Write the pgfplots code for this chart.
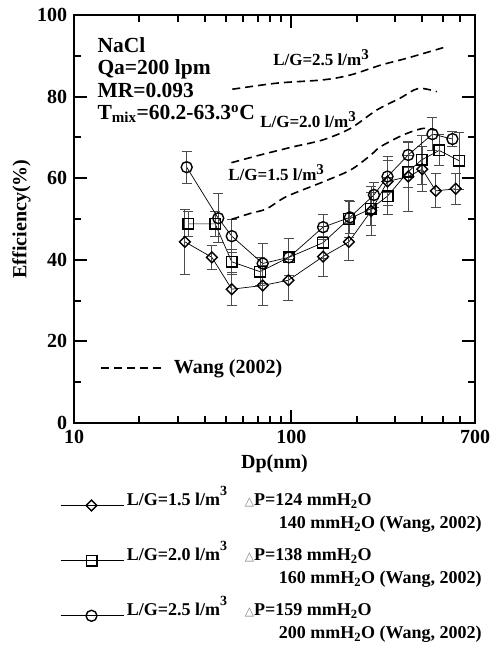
\documentclass[border=0pt]{standalone}
\usepackage{pgfplots}
\pgfplotsset{compat=1.18}
\usepackage{pgfplotstable}
\usepackage{fontspec}
\setmainfont{Liberation Serif}
\newfontfamily\dejavu{DejaVu Sans}
\newcommand\tri{{\dejavu\mdseries\color{gray}\fontsize{12bp}{12bp}\selectfont △}}
\newcommand\cubeL{\raisebox{.55em}{\fontsize{14bp}{14bp}\selectfont 3}}
\newcommand\cubeS{\raisebox{.38em}{\fontsize{15bp}{15bp}\selectfont 3}}

\pgfplotstableread{
x y e
32.4 44.4 8.0
43.1 40.6 3.0
53.2 32.8 4.0
73.8 33.7 5.0
97.0 35.0 5.0
140 40.8 5.0
184 44.4 4.5
233 52.0 6.0
277 59.2 6.0
345 60.4 8.5
400 62.2 5.5
462 56.9 4.2
571 57.4 3.8
}\lgA
\pgfplotstableread{
x y e
33.6 48.8 3.0
44.6 48.8 3.0
53.2 39.5 3.0
71.8 37.1 3.5
97.5 40.6 4.5
140 44.2 4.0
184 50.0 4.5
232 52.5 4.0
277 55.6 4.5
345 61.6 4.0
398 64.5 6.0
479 66.8 3.8
591 64.3 7.0
}\lgB
\pgfplotstableread{
x y e
33.0 62.7 3.9
46.1 50.2 6.0
53.2 45.8 4.0
73.8 39.1 4.8
97.5 40.6 4.5
140 48.0 3.0
186 50.4 4.0
240 55.9 3.0
277 60.4 4.0
345 65.7 3.0
446 70.8 4.1
551 69.6 1.8
}\lgC
\pgfplotstableread{
x y
53 49.9
65 51.4
77 52.5
95 55.5
140 59.1
187 62.0
230 65.5
257 67.7
327 70.6
403 72.2
457 71.8
}\wA
\pgfplotstableread{
x y
53 63.8
72 65.7
102 67.7
140 69.4
187 72.2
247 76.7
316 79.6
384 82.0
467 81.2
}\wB
\pgfplotstableread{
x y
53.5 81.8
86 83.3
140 84.1
187 85.3
257 87.7
340 89.4
500 92.0
}\wC

\begin{document}
\fontsize{20bp}{24bp}\selectfont\bfseries
\begin{tikzpicture}
\useasboundingbox (-74bp,-223bp) rectangle (416bp,423bp);
\begin{axis}[
  at={(0,0)}, anchor=south west,
  scale only axis, width=401bp, height=408bp,
  xmode=log, xmin=10, xmax=700, ymin=0, ymax=100,
  xtick={10,100,700}, xticklabels={10,100,700},
  minor xtick={20,30,40,50,60,70,80,90,200,300,400,500,600},
  ytick={0,20,40,60,80,100}, minor ytick={10,30,50,70,90},
  tick align=inside, major tick length=13bp, minor tick length=7bp,
  axis line style={line width=2.2bp},
  every tick/.style={line width=2bp, black},
  tick label style={font=\fontsize{20bp}{24bp}\selectfont\bfseries},
  /pgf/number format/assume math mode=true,
  xlabel={Dp(nm)}, ylabel={Efficiency(\%)},
  label style={font=\fontsize{20bp}{24bp}\selectfont\bfseries},
  xlabel style={yshift=2bp},
  ylabel style={yshift=-7bp},
  error bars/y dir=both, error bars/y explicit,
  error bars/error bar style={line width=1bp, gray!60!black, solid},
  error bars/error mark options={rotate=90, mark size=5bp, line width=1bp, gray!60!black},
  legend style={at={(axis description cs:-0.035,-0.150)}, anchor=north west,
    draw=none, fill=none, inner sep=0pt, row sep=6bp, column sep=1bp,
    font=\fontsize{18bp}{25bp}\selectfont\bfseries, cells={align=left, anchor=west}},
  legend image code/.code={\draw[mark repeat=2,mark phase=2] plot coordinates {(0bp,3.5bp) (31bp,3.5bp) (63bp,3.5bp)};},
]
\addplot[black, line width=0.7bp, mark=square, mark size=3.8bp, mark options={rotate=45, solid, fill=none, line width=1.4bp}]
  table[x=x, y=y, y error=e] {\lgA};
\addlegendentry{\makebox[118bp][l]{L/G=1.5 l/m\cubeL}\tri P=124 mmH\textsubscript{2}O\\[-2bp]\hspace*{152bp}140 mmH\textsubscript{2}O (Wang, 2002)}
\addplot[black, line width=0.7bp, mark=square, mark size=5.3bp, mark options={solid, fill=none, line width=1.4bp}]
  table[x=x, y=y, y error=e] {\lgB};
\addlegendentry{\makebox[118bp][l]{L/G=2.0 l/m\cubeL}\tri P=138 mmH\textsubscript{2}O\\[-2bp]\hspace*{152bp}160 mmH\textsubscript{2}O (Wang, 2002)}
\addplot[black, line width=0.7bp, mark=o, mark size=5.5bp, mark options={solid, fill=none, line width=1.4bp}]
  table[x=x, y=y, y error=e] {\lgC};
\addlegendentry{\makebox[118bp][l]{L/G=2.5 l/m\cubeL}\tri P=159 mmH\textsubscript{2}O\\[-2bp]\hspace*{152bp}200 mmH\textsubscript{2}O (Wang, 2002)}
\addplot[black, line width=1.6bp, dash pattern=on 8bp off 5bp, smooth, forget plot, no marks] table[x=x,y=y] {\wA};
\addplot[black, line width=1.6bp, dash pattern=on 8bp off 5bp, smooth, forget plot, no marks] table[x=x,y=y] {\wB};
\addplot[black, line width=1.6bp, dash pattern=on 8bp off 5bp, smooth, forget plot, no marks] table[x=x,y=y] {\wC};
\node[anchor=north west, align=left, inner sep=0pt, font=\fontsize{21.5bp}{22.5bp}\selectfont\bfseries] at (axis cs:12.8,94.6) {NaCl\\Qa=200 lpm\\MR=0.093\\T\textsubscript{mix}=60.2-63.3\textsuperscript{o}C};
\node[anchor=west, inner sep=0pt, font=\fontsize{17bp}{20bp}\selectfont\bfseries] at (axis cs:82.4,89.5) {L/G=2.5 l/m\cubeS};
\node[anchor=west, inner sep=0pt, font=\fontsize{17bp}{20bp}\selectfont\bfseries] at (axis cs:71.8,74.3) {L/G=2.0 l/m\cubeS};
\node[anchor=west, inner sep=0pt, font=\fontsize{17bp}{20bp}\selectfont\bfseries] at (axis cs:51.2,61.3) {L/G=1.5 l/m\cubeS};
\end{axis}
\begin{axis}[
  at={(0,0)}, anchor=south west,
  scale only axis, width=401bp, height=408bp,
  hide axis, xmin=0, xmax=1, ymin=0, ymax=1,
  legend style={at={(axis description cs:0.065,0.135)}, anchor=west,
    draw=none, fill=none, inner sep=0pt, column sep=8bp,
    font=\fontsize{20bp}{24bp}\selectfont\bfseries},
  legend image code/.code={\draw (0bp,0bp) -- (62bp,0bp);},
]
\addlegendimage{black, line width=1.6bp, dash pattern=on 8bp off 5bp}
\addlegendentry{Wang (2002)}
\end{axis}
\end{tikzpicture}
\end{document}
